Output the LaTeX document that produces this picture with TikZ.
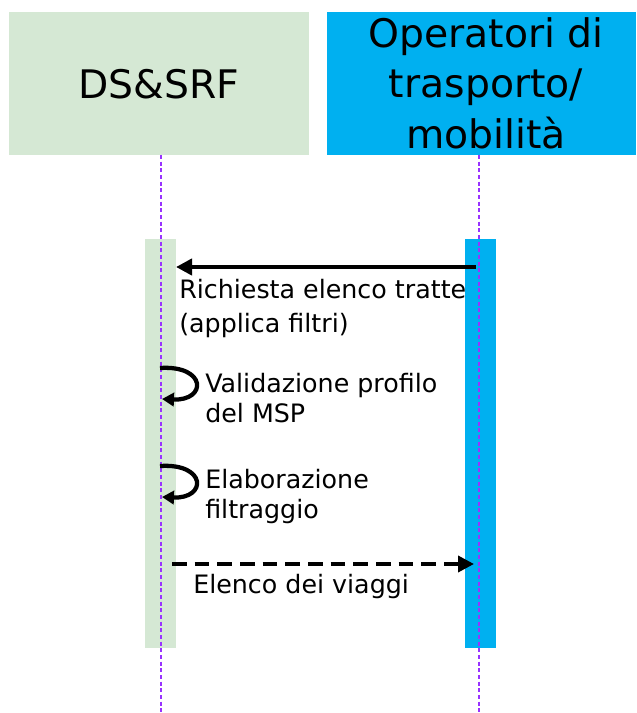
\documentclass[tikz,border=0pt]{standalone}
\usepackage{fontspec}
\setmainfont{DejaVu Sans}
\usetikzlibrary{arrows.meta}
\definecolor{boxgreen}{HTML}{D5E8D4}
\definecolor{boxblue}{HTML}{00B0F0}
\definecolor{lifeviolet}{HTML}{9933FF}
\begin{document}
\begin{tikzpicture}[x=0.75pt,y=-0.75pt,
  hdr/.style={inner sep=0pt, anchor=base, font=\fontsize{29.5}{34}\selectfont},
  lbl/.style={inner sep=0pt, anchor=base west, font=\fontsize{19}{22}\selectfont},
  lifeline/.style={draw=lifeviolet, line width=0.8pt, dash pattern=on 3pt off 2pt},
  msg/.style={draw=black, line width=3pt, -{Triangle[length=12pt,width=12pt]}},
  retmsg/.style={draw=black, line width=2.8pt, dash pattern=on 11pt off 6pt, -{Triangle[length=12pt,width=12pt]}},
  selfmsg/.style={draw=black, line width=3.2pt, -{Triangle[length=9pt,width=10pt]}},
]
\useasboundingbox (0,0) rectangle (636,713);
% participant boxes
\fill[boxgreen] (9,12) rectangle (309,155);
\fill[boxblue] (327,12) rectangle (636,155);
\coordinate (dsbox) at (161,155);
\coordinate (opbox) at (479,155);
\node[hdr] (dsname) at (159,99) {DS\&SRF};
\node[hdr] (op1) at (486,48) {Operatori di};
\node[hdr] (op2) at (486,98) {trasporto/};
\node[hdr] (op3) at (486,149) {mobilità};
% activation bars
\fill[boxgreen] (145,239) rectangle (176,648);
\fill[boxblue] (465,239) rectangle (496,648);
% lifelines
\coordinate (dsend) at (161,713);
\coordinate (opend) at (479,713);
\draw[lifeline] (dsbox) -- (dsend);
\draw[lifeline] (opbox) -- (opend);
% message 1
\coordinate (m1s) at (476,267);
\coordinate (m1e) at (176,267);
\draw[msg] (m1s) -- (m1e);
\node[lbl] (l1a) at (179,298) {Richiesta elenco tratte};
\node[lbl] (l1b) at (179,332) {(applica filtri)};
% self message 1
\coordinate (s1s) at (160,368);
\coordinate (s1e) at (162,399);
\draw[selfmsg] (s1s) .. controls (207,365) and (207,401) .. (s1e);
\node[lbl] (l2a) at (205,392) {Validazione profilo};
\node[lbl] (l2b) at (205,422) {del MSP};
% self message 2
\coordinate (s2s) at (160,466);
\coordinate (s2e) at (162,497);
\draw[selfmsg] (s2s) .. controls (207,463) and (207,499) .. (s2e);
\node[lbl] (l3a) at (205,488) {Elaborazione};
\node[lbl] (l3b) at (205,518) {filtraggio};
% return message
\coordinate (m4s) at (172,564);
\coordinate (m4e) at (474,564);
\draw[retmsg] (m4s) -- (m4e);
\node[lbl] (l4) at (193,593) {Elenco dei viaggi};
\end{tikzpicture}
\end{document}
